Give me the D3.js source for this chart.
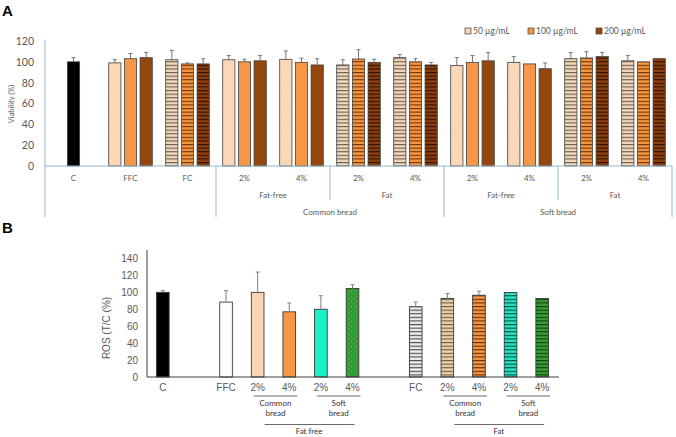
<!DOCTYPE html>
<html>
<head>
<meta charset="utf-8">
<script src="https://cdn.jsdelivr.net/npm/d3@7"></script>
<style>
  body { margin: 0; background: #fff; }
  svg { display: block; }
</style>
</head>
<body>
<div id="chart"></div>
<script>
// ---- Panel A data: viability (%) ----
var catsA = ["C", "FFC", "FC", "2%", "4%", "2%", "4%", "2%", "4%", "2%", "4%"];
var fatA = ["control", "fat-free", "fat", "fat-free", "fat-free", "fat", "fat", "fat-free", "fat-free", "fat", "fat"];
var level2A = [["Fat-free", 3, 4], ["Fat", 5, 6], ["Fat-free", 7, 8], ["Fat", 9, 10]];
var level3A = [["Common bread", 3, 6], ["Soft bread", 7, 10]];
var concLabels = ["50 µg/mL", "100 µg/mL", "200 µg/mL"];
var controlA = 100, controlAErr = 4;
// one entry per group after C (FFC ... Soft bread Fat 4%)
var via50  = [99, 102, 102, 102.4, 97, 104, 96.6, 99.5, 103, 101];
var via100 = [103, 98, 100, 99.5, 102.7, 100, 99.5, 98, 103.7, 100];
var via200 = [104, 98, 101, 97, 99.5, 97, 101, 93.4, 105, 103];
var err50  = [3, 9, 4, 8, 5, 3, 7.5, 5.5, 6, 5];
var err100 = [5, 1, 2.5, 4, 9, 3, 6.5, 0, 6, 0.5];
var err200 = [5, 5, 5, 6, 3, 2.5, 8, 5.5, 4, 0];
var ticksA = [0, 20, 40, 60, 80, 100, 120];

// ---- Panel B data: ROS (T/C %) ----
var catsB = ["C", "", "FFC", "2%", "4%", "2%", "4%", "", "FC", "2%", "4%", "2%", "4%"];
var kindB = ["control", null, "none", "common", "common", "soft", "soft", null, "none", "common", "common", "soft", "soft"];
var pctB  = [null, null, null, 2, 4, 2, 4, null, null, 2, 4, 2, 4];
var fatB  = [false, false, false, false, false, false, false, false, true, true, true, true, true];
var rosVals = [100, null, 88.5, 100, 77, 80, 104.5, null, 83, 92.7, 96.6, 99.8, 92.7];
var rosErr  = [2, null, 13.5, 24, 10.5, 16, 4.5, null, 5.5, 6, 4.7, 0, 0];
var breadGroupsB = [["Common", "bread", 3, 4], ["Soft", "bread", 5, 6], ["Common", "bread", 9, 10], ["Soft", "bread", 11, 12]];
var fatGroupsB = [["Fat free", 3, 6], ["Fat", 9, 12]];
var ticksB = [0, 20, 40, 60, 80, 100, 120, 140];

var W = 676, H = 437;
var svg = d3.select("#chart").append("svg").attr("width", W).attr("height", H);
var defs = svg.append("defs");

// stripe patterns: base colour with dark horizontal lines
function stripe(id, base, line) {
  var p = defs.append("pattern").attr("id", id).attr("patternUnits", "userSpaceOnUse")
    .attr("width", 6).attr("height", 3.6);
  p.append("rect").attr("width", 6).attr("height", 3.6).attr("fill", base);
  p.append("rect").attr("y", 0).attr("width", 6).attr("height", 1.1).attr("fill", line);
}
function dots(id, base, dot) {
  var p = defs.append("pattern").attr("id", id).attr("patternUnits", "userSpaceOnUse")
    .attr("width", 5).attr("height", 5);
  p.append("rect").attr("width", 5).attr("height", 5).attr("fill", base);
  p.append("circle").attr("cx", 1.5).attr("cy", 1.5).attr("r", 0.5).attr("fill", dot);
  p.append("circle").attr("cx", 4).attr("cy", 3.8).attr("r", 0.5).attr("fill", dot);
}
var solidA = ["#fcd5b4", "#f79646", "#94460c"];
stripe("sA0", "#efd8bd", "#6e5c4a");
stripe("sA1", "#f7963f", "#6a3510");
stripe("sA2", "#8d3e0a", "#2a1205");
stripe("sB_none", "#ececec", "#4a4a4a");
stripe("sB_common2", "#ead0ad", "#6b5a45");
stripe("sB_common4", "#f7963f", "#5a2e10");
stripe("sB_soft2", "#1ee8c2", "#0c4a3e");
stripe("sB_soft4", "#34a034", "#123c12");
dots("dB_soft4", "#2e9b2e", "#b5b5b5");
dots("dA0", "#fcd5b4", "#f4e8dc");

var greyTxt = "#595959";
var axisBlue = "#93b7cf";

svg.append("text").attr("x", 2).attr("y", 16).text("A")
  .style("font", "bold 15px 'Liberation Sans', Arial, sans-serif");
svg.append("text").attr("x", 2).attr("y", 233).text("B")
  .style("font", "bold 15px 'Liberation Sans', Arial, sans-serif");

// =================== Panel A ===================
var fontA = "Lato, 'Open Sans', sans-serif";
var xA = d3.scaleBand().domain(d3.range(catsA.length)).range([45, 672]);
var yA = d3.scaleLinear().domain([0, 120]).range([166, 41]);
var subA = d3.scaleBand().domain([0, 1, 2]).range([-25.25, 25.25]).padding(0.22);

var gA = svg.append("g");
gA.append("g").attr("transform", "translate(45,0)")
  .call(d3.axisLeft(yA).tickValues(ticksA).tickSize(0).tickPadding(11))
  .call(function(g) { g.select(".domain").remove(); })
  .selectAll("text").style("font-family", fontA).style("font-size", "10.5px").attr("fill", greyTxt);

gA.append("text")
  .attr("transform", "translate(14,104) rotate(-90)")
  .attr("text-anchor", "middle")
  .style("font-family", fontA).style("font-size", "7.5px").attr("fill", greyTxt)
  .text("Viability (%)");

// bars: rows of {group, series, value, err}
var rowsA = [{cat: 0, s: -1, v: controlA, e: controlAErr}];
[via50, via100, via200].forEach(function(arr, s) {
  var errs = [err50, err100, err200][s];
  arr.forEach(function(v, i) { rowsA.push({cat: i + 1, s: s, v: v, e: errs[i]}); });
});
function barXA(d) {
  var c = xA(d.cat) + xA.bandwidth() / 2;
  return d.s < 0 ? c - subA.bandwidth() / 2 : c + subA(d.s);
}
function fillA(d) {
  if (d.s < 0) return "#000";
  if (fatA[d.cat] === "fat") return "url(#sA" + d.s + ")";
  return d.s === 0 ? "url(#dA0)" : solidA[d.s];
}
gA.selectAll("rect.bar").data(rowsA).enter().append("rect")
  .attr("class", "bar")
  .attr("x", barXA)
  .attr("y", function(d) { return yA(d.v); })
  .attr("width", subA.bandwidth())
  .attr("height", function(d) { return yA(0) - yA(d.v); })
  .attr("fill", fillA)
  .attr("stroke", "#404040").attr("stroke-width", 0.8);

var errRowsA = rowsA.filter(function(d) { return d.e > 0.8; });
gA.selectAll("line.err").data(errRowsA).enter().append("line")
  .attr("x1", function(d) { return barXA(d) + subA.bandwidth() / 2; })
  .attr("x2", function(d) { return barXA(d) + subA.bandwidth() / 2; })
  .attr("y1", function(d) { return yA(d.v); })
  .attr("y2", function(d) { return yA(d.v + d.e); })
  .attr("stroke", "#666").attr("stroke-width", 0.9);
gA.selectAll("line.cap").data(errRowsA).enter().append("line")
  .attr("x1", function(d) { return barXA(d) + subA.bandwidth() / 2 - 2; })
  .attr("x2", function(d) { return barXA(d) + subA.bandwidth() / 2 + 2; })
  .attr("y1", function(d) { return yA(d.v + d.e); })
  .attr("y2", function(d) { return yA(d.v + d.e); })
  .attr("stroke", "#666").attr("stroke-width", 0.9);

// category axis (multi-level)
gA.append("line").attr("x1", 45).attr("x2", 672).attr("y1", yA(0)).attr("y2", yA(0))
  .attr("stroke", axisBlue).attr("stroke-width", 1);
gA.append("line").attr("x1", 45).attr("x2", 45).attr("y1", 40).attr("y2", 217)
  .attr("stroke", axisBlue).attr("stroke-width", 1);
[[3, 217], [5, 200], [7, 217], [9, 200]].forEach(function(s) {
  gA.append("line").attr("x1", xA(s[0])).attr("x2", xA(s[0]))
    .attr("y1", yA(0)).attr("y2", s[1]).attr("stroke", axisBlue);
});
gA.append("line").attr("x1", 672).attr("x2", 672).attr("y1", yA(0)).attr("y2", 217).attr("stroke", axisBlue);

gA.selectAll("text.cat").data(catsA).enter().append("text")
  .attr("x", function(d, i) { return xA(i) + xA.bandwidth() / 2; })
  .attr("y", 181).attr("text-anchor", "middle")
  .style("font-family", fontA).style("font-size", "8px").attr("fill", greyTxt)
  .text(function(d) { return d; });
function spanMid(a, b) { return (xA(a) + xA(b) + xA.bandwidth()) / 2; }
gA.selectAll("text.l2").data(level2A).enter().append("text")
  .attr("x", function(d) { return spanMid(d[1], d[2]); })
  .attr("y", 198).attr("text-anchor", "middle")
  .style("font-family", fontA).style("font-size", "8px").attr("fill", greyTxt)
  .text(function(d) { return d[0]; });
gA.selectAll("text.l3").data(level3A).enter().append("text")
  .attr("x", function(d) { return spanMid(d[1], d[2]); })
  .attr("y", 215).attr("text-anchor", "middle")
  .style("font-family", fontA).style("font-size", "8px").attr("fill", greyTxt)
  .text(function(d) { return d[0]; });

// legend
var legOff = [0, 63, 131];
var leg = gA.append("g").attr("transform", "translate(465,28)");
concLabels.forEach(function(t, i) {
  leg.append("rect").attr("x", legOff[i]).attr("y", 0).attr("width", 6).attr("height", 6)
    .attr("fill", solidA[i]).attr("stroke", "#404040").attr("stroke-width", 0.7);
  leg.append("text").attr("x", legOff[i] + 8).attr("y", 6.3)
    .style("font-family", fontA).style("font-size", "8.5px").attr("fill", greyTxt).text(t);
});

// =================== Panel B ===================
var fontB = "'Liberation Sans', Arial, sans-serif";
var xB = d3.scaleBand().domain(d3.range(catsB.length)).range([147, 558]);
var yB = d3.scaleLinear().domain([0, 140]).range([377, 258.5]);
var bwB = xB.bandwidth() * 0.4;
function cB(i) { return xB(i) + xB.bandwidth() / 2; }

var gB = svg.append("g");
gB.append("g").attr("transform", "translate(147,0)")
  .call(d3.axisLeft(yB).tickValues(ticksB).tickSize(0).tickPadding(9))
  .call(function(g) { g.select(".domain").remove(); })
  .selectAll("text").style("font-family", fontB).style("font-size", "10px").attr("fill", greyTxt);
gB.append("text")
  .attr("transform", "translate(110,328) rotate(-90)")
  .attr("text-anchor", "middle")
  .style("font-family", fontB).style("font-size", "10px").attr("fill", greyTxt)
  .text("ROS (T/C (%)");

var rowsB = rosVals.map(function(v, i) { return {i: i, v: v, e: rosErr[i]}; })
  .filter(function(d) { return d.v != null; });
var solidB = {control: "#000", none: "#fff", common2: "#fcd5b4", common4: "#f79646", soft2: "#16f2c6", soft4: "url(#dB_soft4)"};
function fillB(d) {
  var k = kindB[d.i];
  var key = (k === "common" || k === "soft") ? k + pctB[d.i] : k;
  if (fatB[d.i]) return "url(#sB_" + (k === "none" ? "none" : key) + ")";
  return solidB[key];
}
gB.selectAll("rect.bar").data(rowsB).enter().append("rect")
  .attr("x", function(d) { return cB(d.i) - bwB / 2; })
  .attr("y", function(d) { return yB(d.v); })
  .attr("width", bwB)
  .attr("height", function(d) { return yB(0) - yB(d.v); })
  .attr("fill", fillB)
  .attr("stroke", "#3a3a3a").attr("stroke-width", 0.9);

var errRowsB = rowsB.filter(function(d) { return d.e > 0.5; });
gB.selectAll("line.err").data(errRowsB).enter().append("line")
  .attr("x1", function(d) { return cB(d.i); }).attr("x2", function(d) { return cB(d.i); })
  .attr("y1", function(d) { return yB(d.v); })
  .attr("y2", function(d) { return yB(d.v + d.e); })
  .attr("stroke", "#808080").attr("stroke-width", 1);
gB.selectAll("line.cap").data(errRowsB).enter().append("line")
  .attr("x1", function(d) { return cB(d.i) - 2; }).attr("x2", function(d) { return cB(d.i) + 2; })
  .attr("y1", function(d) { return yB(d.v + d.e); })
  .attr("y2", function(d) { return yB(d.v + d.e); })
  .attr("stroke", "#808080").attr("stroke-width", 1);

gB.append("line").attr("x1", 147).attr("x2", 147).attr("y1", 250).attr("y2", yB(0))
  .attr("stroke", "#404040").attr("stroke-width", 1);
gB.append("line").attr("x1", 147).attr("x2", 559).attr("y1", yB(0)).attr("y2", yB(0))
  .attr("stroke", "#404040").attr("stroke-width", 1);

gB.selectAll("text.cat").data(catsB).enter().append("text")
  .attr("x", function(d, i) { return cB(i); })
  .attr("y", 391).attr("text-anchor", "middle")
  .style("font-family", fontB).style("font-size", "10px").attr("fill", greyTxt)
  .text(function(d) { return d; });

breadGroupsB.forEach(function(g) {
  gB.append("line").attr("x1", cB(g[2]) - 4).attr("x2", cB(g[3]) + 8)
    .attr("y1", 396).attr("y2", 396).attr("stroke", "#595959").attr("stroke-width", 0.9);
  var mx = (cB(g[2]) + cB(g[3])) / 2 + 2;
  gB.append("text").attr("x", mx).attr("y", 406).attr("text-anchor", "middle")
    .style("font-family", fontA).style("font-size", "8px").attr("fill", "#333").text(g[0]);
  gB.append("text").attr("x", mx).attr("y", 416).attr("text-anchor", "middle")
    .style("font-family", fontA).style("font-size", "8px").attr("fill", "#333").text(g[1]);
});
fatGroupsB.forEach(function(g) {
  gB.append("line").attr("x1", cB(g[1]) + 7).attr("x2", cB(g[2]) + 2)
    .attr("y1", 424.5).attr("y2", 424.5).attr("stroke", "#595959").attr("stroke-width", 0.9);
  gB.append("text").attr("x", (cB(g[1]) + cB(g[2])) / 2 + 4).attr("y", 434).attr("text-anchor", "middle")
    .style("font-family", fontA).style("font-size", "8px").attr("fill", "#333").text(g[0]);
});
</script>
</body>
</html>
